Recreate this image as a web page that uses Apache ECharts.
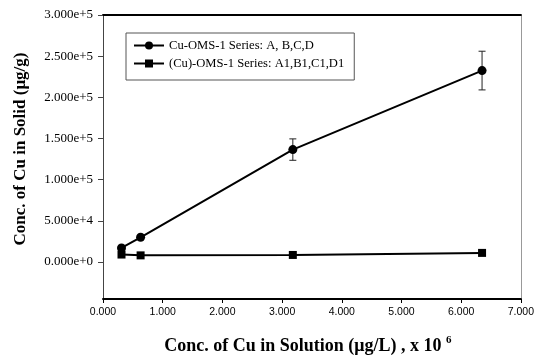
<!DOCTYPE html>
<html>
<head>
<meta charset="utf-8">
<script src="https://cdn.jsdelivr.net/npm/echarts@6/dist/echarts.min.js"></script>
<style>
  html, body { margin: 0; padding: 0; background: #fff; }
  #chart { width: 537px; height: 360px; }
</style>
</head>
<body>
<div id="chart"></div>
<script>
// Copper uptake: concentration in solution vs. concentration in solid
const seriesNames = ['Cu-OMS-1 Series: A, B,C,D', '(Cu)-OMS-1 Series: A1,B1,C1,D1'];
const solutionConc = [0.31, 0.63, 3.18, 6.35];          // x 10^6 µg/L
const solidConcA = [17000, 30000, 136500, 232500];       // µg/g
const errorA = [0, 0, 13000, 23500];                     // ± µg/g
const solidConcB = [9000, 8000, 8500, 11000];            // µg/g
const yTicks = [0, 50000, 100000, 150000, 200000, 250000, 300000];

const serif = 'Liberation Serif';
const sans = 'Liberation Sans';

function sci(v) {
  if (v === 0) return '0.000e+0';
  const e = Math.floor(Math.log10(Math.abs(v)));
  const m = v / Math.pow(10, e);
  return m.toFixed(3) + 'e+' + e;
}

const pairsA = solutionConc.map((x, i) => [x, solidConcA[i]]);
const pairsB = solutionConc.map((x, i) => [x, solidConcB[i]]);
const errData = solutionConc
  .map((x, i) => [x, solidConcA[i] - errorA[i], solidConcA[i] + errorA[i]])
  .filter((d, i) => errorA[i] > 0);

const chart = echarts.init(document.getElementById('chart'), null, { renderer: 'canvas' });

chart.setOption({
  animation: false,
  backgroundColor: '#fff',
  grid: { left: 103, top: 15, right: 15, bottom: 55, containLabel: false },
  legend: {
    orient: 'vertical',
    left: 126,
    top: 33,
    data: seriesNames,
    itemWidth: 30,
    itemHeight: 10,
    itemGap: 5,
    padding: [6, 10, 10, 7],
    borderColor: '#555',
    borderWidth: 1,
    backgroundColor: '#fff',
    textStyle: { fontFamily: serif, fontSize: 12.6, color: '#000', lineHeight: 12 }
  },
  xAxis: [{
    type: 'value',
    min: 0, max: 7, interval: 1,
    name: 'Conc. of Cu in Solution (\u03bcg/L) , x 10 {sup|6}',
    nameLocation: 'middle',
    nameGap: 36,
    nameTextStyle: {
      fontFamily: serif, fontSize: 18, fontWeight: 'bold', color: '#000',
      padding: [0, 8, 0, 0],
      rich: { sup: { fontFamily: serif, fontSize: 11, fontWeight: 'bold', color: '#000', padding: [0, 0, 11, 0] } }
    },
    axisLine: { show: true, onZero: false, lineStyle: { color: '#000', width: 2 } },
    axisTick: { show: true, inside: false, length: 4, lineStyle: { color: '#000', width: 1 } },
    axisLabel: { formatter: v => v.toFixed(3), fontFamily: sans, fontSize: 10.5, color: '#000', margin: 8 },
    splitLine: { show: false }
  }, {
    type: 'value',
    position: 'top',
    min: 0, max: 7,
    axisLine: { show: true, onZero: false, lineStyle: { color: '#000', width: 2 } },
    axisTick: { show: false },
    axisLabel: { show: false },
    splitLine: { show: false }
  }],
  yAxis: [{
    type: 'value',
    min: -45000, max: 300000,
    name: 'Conc. of Cu in Solid (\u03bcg/g)',
    nameLocation: 'middle',
    nameGap: 74,
    nameTextStyle: { fontFamily: serif, fontSize: 17, fontWeight: 'bold', color: '#000', padding: [0, 0, 0, 16] },
    axisLine: { show: true, onZero: false, lineStyle: { color: '#444', width: 1 } },
    axisTick: { show: true, length: 5, customValues: yTicks, lineStyle: { color: '#444', width: 1 } },
    axisLabel: { customValues: yTicks, formatter: sci, fontFamily: serif, fontSize: 13, color: '#000', margin: 10 },
    splitLine: { show: false }
  }, {
    type: 'value',
    position: 'right',
    min: -45000, max: 300000,
    axisLine: { show: true, onZero: false, lineStyle: { color: '#999', width: 1 } },
    axisTick: { show: false },
    axisLabel: { show: false },
    splitLine: { show: false }
  }],
  series: [{
    name: seriesNames[0],
    type: 'line',
    data: pairsA,
    symbol: 'circle',
    symbolSize: 9,
    itemStyle: { color: '#000' },
    lineStyle: { color: '#000', width: 2 },
    z: 3
  }, {
    name: seriesNames[1],
    type: 'line',
    data: pairsB,
    symbol: 'rect',
    symbolSize: 8,
    itemStyle: { color: '#000' },
    lineStyle: { color: '#000', width: 2 },
    z: 3
  }, {
    name: 'error',
    type: 'custom',
    data: errData,
    z: 2,
    renderItem: function (params, api) {
      const x = api.value(0);
      const lo = api.coord([x, api.value(1)]);
      const hi = api.coord([x, api.value(2)]);
      const cap = 3.5;
      const style = { stroke: '#222', lineWidth: 1 };
      return {
        type: 'group',
        children: [
          { type: 'line', shape: { x1: lo[0], y1: lo[1], x2: hi[0], y2: hi[1] }, style: style },
          { type: 'line', shape: { x1: hi[0] - cap, y1: hi[1], x2: hi[0] + cap, y2: hi[1] }, style: style },
          { type: 'line', shape: { x1: lo[0] - cap, y1: lo[1], x2: lo[0] + cap, y2: lo[1] }, style: style }
        ]
      };
    }
  }]
});
</script>
</body>
</html>
